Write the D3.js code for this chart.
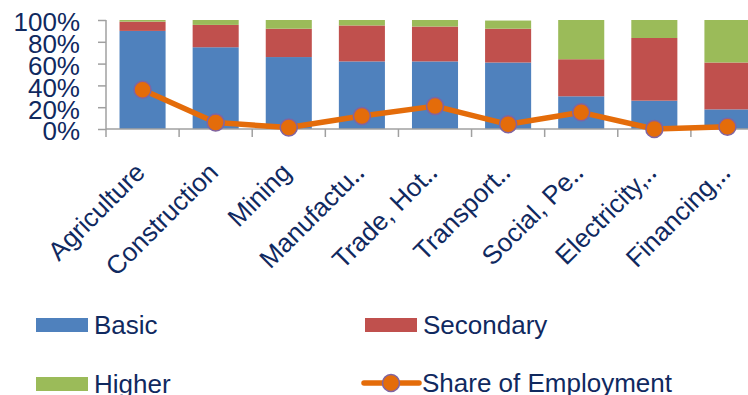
<!DOCTYPE html>
<html>
<head>
<meta charset="utf-8">
<script src="https://cdn.jsdelivr.net/npm/d3@7/dist/d3.min.js"></script>
<style>
  html, body { margin: 0; padding: 0; background: #fff; }
  svg { display: block; font-family: "Liberation Sans", Arial, sans-serif; }
</style>
</head>
<body>
<div id="chart"></div>
<script>
// education mix per sector (stacked %), plus each sector's share of employment
var categories = ['Agriculture', 'Construction', 'Mining', 'Manufactu\u2025', 'Trade, Hot\u2025',
  'Transport\u2025', 'Social, Pe\u2025', 'Electricity,\u2025', 'Financing,\u2025'];
var basic     = [90, 75, 66, 62, 62, 61, 30, 26, 18];
var secondary = [8.5, 20.5, 26, 33, 32, 31, 34, 57.5, 43];
var higher    = [1.5, 4.5, 8, 5, 6, 7.5, 36, 16.5, 39];
var share     = [36, 6, 1.3, 12, 21, 4.3, 15.3, 0, 2];
var yTicks    = [0, 20, 40, 60, 80, 100];

var seriesNames = ['Basic', 'Secondary', 'Higher'];
var lineName = 'Share of Employment';

(function () {
  'use strict';
  var W = 748, H = 395;
  var TXT = '#10295f', AXIS = '#a0a0a0';
  var colors = { Basic: '#4f81bd', Secondary: '#c0504d', Higher: '#9bbb59' };
  var LINE = '#e46c0a', MARK_EDGE = '#8064a2';

  var svg = d3.select('#chart').append('svg')
    .attr('width', W).attr('height', H);

  // plot runs a little past the right edge, like the original crop
  var x0 = 106, x1 = 764, yTop = 20, yBot = 129;

  var xCat = d3.scaleBand().domain(categories).range([x0, x1]);
  var xBar = d3.scaleBand().domain(categories).range([x0, x1])
    .paddingInner(0.37).paddingOuter(0.185);
  var y = d3.scaleLinear().domain([0, 100]).range([yBot, yTop]);

  var rows = categories.map(function (c, i) {
    return { cat: c, Basic: basic[i], Secondary: secondary[i], Higher: higher[i] };
  });
  var stacked = d3.stack().keys(seriesNames)(rows);

  // bars
  var gb = svg.append('g');
  stacked.forEach(function (s) {
    gb.append('g').attr('fill', colors[s.key])
      .selectAll('rect').data(s).join('rect')
      .attr('x', function (d) { return xBar(d.data.cat); })
      .attr('width', xBar.bandwidth())
      .attr('y', function (d) { return y(d[1]); })
      .attr('height', function (d) { return y(d[0]) - y(d[1]); });
  });

  // y axis
  var ya = svg.append('g').attr('transform', 'translate(' + x0 + ',0)')
    .call(d3.axisLeft(y).tickValues(yTicks).tickSize(8).tickPadding(18)
      .tickFormat(function (d) { return d + '%'; }));
  ya.select('.domain').attr('stroke', AXIS).attr('stroke-width', 1.5)
    .attr('d', 'M0,' + yTop + 'V' + yBot);
  ya.selectAll('.tick line').attr('stroke', AXIS).attr('stroke-width', 1.5);
  ya.selectAll('.tick text').attr('fill', TXT).attr('font-size', 26)
    .attr('font-family', '"Liberation Sans", Arial, sans-serif').attr('dy', '0.42em');

  // x axis: line + ticks on category boundaries
  var xa = svg.append('g');
  xa.append('line').attr('x1', x0).attr('x2', x1).attr('y1', yBot).attr('y2', yBot)
    .attr('stroke', AXIS).attr('stroke-width', 1.5);
  var bounds = categories.map(function (c) { return xCat(c); }).concat([x1]);
  xa.selectAll('line.tk').data(bounds).join('line').attr('class', 'tk')
    .attr('x1', function (d) { return d; }).attr('x2', function (d) { return d; })
    .attr('y1', yBot).attr('y2', yBot + 8)
    .attr('stroke', AXIS).attr('stroke-width', 1.5);
  xa.selectAll('text').data(categories).join('text')
    .attr('transform', function (d) {
      return 'translate(' + (xCat(d) + xCat.bandwidth() / 2 + 4) + ',' + 174 + ') rotate(-45)';
    })
    .attr('text-anchor', 'end').attr('fill', TXT).attr('font-size', 26)
    .text(function (d) { return d; });

  // share of employment line
  var cx = function (i) { return xCat(categories[i]) + xCat.bandwidth() / 2; };
  var line = d3.line().x(function (d, i) { return cx(i); }).y(function (d) { return y(d); });
  svg.append('path').datum(share).attr('d', line)
    .attr('fill', 'none').attr('stroke', LINE).attr('stroke-width', 5.5)
    .attr('stroke-linejoin', 'round');
  svg.append('g').selectAll('circle').data(share).join('circle')
    .attr('cx', function (d, i) { return cx(i); })
    .attr('cy', function (d) { return y(d); })
    .attr('r', 8.5).attr('fill', LINE)
    .attr('stroke', MARK_EDGE).attr('stroke-width', 1.5);

  // legend, 2x2
  var leg = [
    { name: 'Basic', x: 36, y: 325, type: 'rect' },
    { name: 'Secondary', x: 365, y: 325, type: 'rect' },
    { name: 'Higher', x: 36, y: 384, type: 'rect' },
    { name: lineName, x: 364, y: 383, type: 'line' }
  ];
  var lg = svg.append('g');
  leg.forEach(function (d) {
    var g = lg.append('g').attr('transform', 'translate(' + d.x + ',' + d.y + ')');
    if (d.type === 'rect') {
      g.append('rect').attr('x', 0).attr('y', -7).attr('width', 52).attr('height', 14)
        .attr('fill', colors[d.name]);
    } else {
      g.append('line').attr('x1', 0).attr('x2', 55).attr('y1', 0).attr('y2', 0)
        .attr('stroke', LINE).attr('stroke-width', 5.5).attr('stroke-linecap', 'round');
      g.append('circle').attr('cx', 27).attr('cy', 0).attr('r', 8.5)
        .attr('fill', LINE).attr('stroke', MARK_EDGE).attr('stroke-width', 1.5);
    }
    g.append('text').attr('x', 58).attr('y', 9).attr('fill', TXT).attr('font-size', 26)
      .text(d.name);
  });
})();
</script>
</body>
</html>
